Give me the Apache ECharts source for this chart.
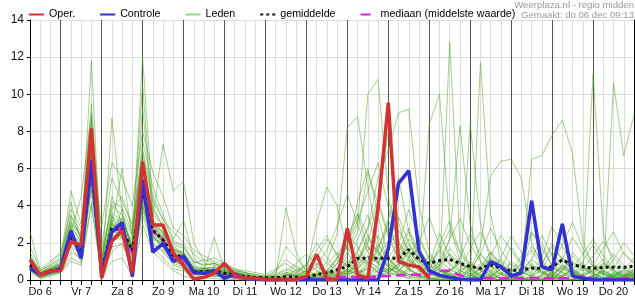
<!DOCTYPE html>
<html><head><meta charset="utf-8">
<script src="https://cdn.jsdelivr.net/npm/echarts@6/dist/echarts.min.js"></script>
<style>html,body{margin:0;padding:0;background:#fff}#c{width:635px;height:300px}</style>
</head><body><div id="c"></div>
<script>
// ---- data ----
const dayNames = ['Do 6','Vr 7','Za 8','Zo 9','Ma 10','Di 11','Wo 12','Do 13','Vr 14','Za 15','Zo 16','Ma 17','Di 18','Wo 19','Do 20','Vr 21'];
const startHour = 6;
const stepHours = 6;
const nSteps = 60;
const yMin = 0, yMax = 14, yStep = 2;

const oper = [1.1,0.25,0.5,0.5,2.06,1.88,8.17,0.1,2.1,2.66,
  0.37,6.37,2.96,2.96,1.45,0.77,0.04,0.14,0.36,0.9,
  0.27,0.09,0.09,0.03,0.03,0.03,0.03,0.18,1.38,0.04,
  0.04,2.78,0.27,0.07,3.85,9.55,1.0,0.8,0.7,0.09];

const controle = [0.63,0.27,0.45,0.63,2.66,1.17,6.46,0.3,2.6,3.09,
  0.18,5.39,1.5,1.97,1.0,1.29,0.41,0.36,0.5,0.09,
  0.32,0.09,0.04,0,0,0,0,0,0,0,
  0,0,0,0,0,1.67,5.2,5.89,1.55,0.5,
  0.25,0.14,0.04,0,0,0.99,0.72,0.22,0.39,4.27,
  0.72,0.54,3.02,0.22,0.09,0,0,0,0,0];

const gemiddelde = [0.8,0.3,0.5,0.6,2.3,1.6,6.1,0.4,2.8,2.7,
  1.6,4.8,2.7,2.15,1.35,1.25,0.45,0.45,0.5,0.36,
  0.32,0.18,0.14,0.12,0.12,0.18,0.15,0.12,0.3,0.39,
  0.55,0.72,1.17,1.18,1.17,1.17,1.17,1.64,1.1,0.9,
  1.05,1.11,0.9,0.72,0.63,0.81,0.63,0.5,0.54,0.63,
  0.63,0.72,1.08,0.81,0.72,0.63,0.68,0.68,0.68,0.75];

const mediaan = [0.7,0.25,0.45,0.55,2.3,1.5,5.9,0.4,2.6,2.8,
  1.4,4.7,2.6,2.2,1.2,1.1,0.35,0.35,0.4,0.2,
  0.15,0.05,0.02,0,0,0,0,0,0.05,0.1,
  0.15,0.18,0.15,0.12,0.2,0.22,0.25,0.28,0.28,0.3,
  0.5,0.5,0.25,0.1,0.1,0.1,0.1,0.1,0.1,0.1,
  0.1,0.1,0.1,0.1,0.2,0.1,0.1,0.1,0.1,0.1];

const leden = [
 [1.0,0.3,0.5,0.7,2.8,1.5,7.2,0.4,3.2,2.4,1.2,5.5,2.2,1.8,1.0,0.8,0.3,0.4,0.6,0.3,0.2,0.1,0.0,0.0,
  0.0,0.1,0.2,0.0,0.3,0.5,1.2,2.5,1.8,0.9,0.4,0.6,1.5,2.8,1.2,0.5,0.2,0.3,0.1,0.0,0.0,0.2,0.6,0.3,0.1,0.0,0.0,0.4,1.2,0.6,0.2,0.0,0.1,0.3,0.2,0.5],
 [0.6,0.2,0.4,0.5,2.0,1.8,5.5,0.8,2.5,3.1,1.9,4.2,3.0,2.5,1.6,1.4,0.6,0.3,0.4,0.5,0.3,0.1,0.1,0.0,
  0.1,0.0,0.0,0.2,0.1,0.0,0.3,0.6,2.2,3.5,1.6,0.8,0.5,1.0,0.7,0.3,0.6,1.4,0.9,0.3,0.1,0.0,0.0,0.2,0.5,1.1,0.7,0.3,0.2,0.6,0.9,0.4,0.1,0.0,0.0,0.2],
 [2.6,0.5,0.8,1.2,4.8,3.0,8.5,1.5,4.0,3.5,2.5,6.0,3.8,2.9,2.0,1.8,1.0,0.8,0.9,0.7,0.5,0.3,0.2,0.1,
  0.3,0.6,0.4,0.2,0.0,0.1,0.5,1.0,0.8,1.6,2.4,1.1,0.6,0.3,0.2,0.8,2.5,1.3,0.5,0.2,0.6,1.5,0.8,0.3,0.1,0.0,0.3,0.7,0.4,0.2,0.0,0.1,0.6,1.4,0.8,0.3],
 [0.5,0.1,0.3,0.4,1.2,0.9,4.2,0.2,1.5,2.0,0.8,3.5,1.8,1.2,0.6,0.5,0.1,0.2,0.3,0.1,0.0,0.0,0.0,0.0,
  0.0,0.0,0.1,0.0,0.0,0.2,0.4,0.3,0.5,0.2,0.8,3.2,5.5,2.6,1.0,0.4,0.2,0.0,0.0,0.3,0.9,0.4,0.1,0.0,0.0,0.2,0.5,0.2,0.0,0.0,0.3,0.8,0.5,0.2,0.0,0.0],
 [0.9,0.4,0.6,0.8,3.5,2.2,11.8,0.6,2.2,2.8,1.5,4.9,2.6,2.0,1.3,1.0,0.4,0.6,0.7,0.4,0.3,0.2,0.1,0.0,
  0.0,0.0,0.0,0.1,0.2,0.0,0.1,0.4,0.9,2.0,4.2,8.0,3.1,1.2,0.5,0.2,0.0,0.0,0.4,1.0,0.5,0.2,0.6,1.8,0.9,0.3,0.0,0.0,0.2,0.4,0.1,0.0,0.0,0.3,0.5,0.2],
 [1.2,0.3,0.4,0.6,2.4,1.7,6.4,0.3,8.7,3.6,1.4,5.2,2.4,1.7,1.1,1.3,0.7,0.4,0.3,0.6,0.4,0.2,0.1,0.1,
  0.0,0.2,0.5,0.3,0.1,0.0,0.0,0.2,0.6,1.3,0.9,0.5,0.8,1.9,1.1,0.6,0.3,12.8,2.0,0.6,0.2,0.0,0.0,0.1,0.4,0.2,0.0,0.0,0.5,1.3,0.7,0.2,0.0,0.0,0.1,0.3],
 [0.7,0.2,0.5,0.5,2.1,1.3,5.9,0.5,2.9,6.0,2.2,12.0,4.0,2.8,1.5,1.1,0.5,0.3,0.4,0.3,0.2,0.1,0.0,0.0,
  0.1,0.3,0.2,0.0,0.3,0.8,1.5,0.9,0.4,0.6,1.8,2.9,1.5,0.6,0.2,0.1,0.0,0.2,0.5,0.3,0.1,0.0,0.3,0.9,0.5,0.2,0.1,0.0,0.0,0.3,0.7,0.4,0.1,0.0,0.2,0.6],
 [0.8,0.3,0.6,0.9,3.0,2.5,7.8,1.0,3.5,2.2,1.8,9.3,3.4,7.3,4.8,5.3,2.0,1.0,1.2,0.9,0.6,0.4,0.2,0.1,
  0.0,0.0,0.1,0.4,0.9,0.5,0.2,0.6,1.2,0.8,0.4,0.3,1.0,2.2,1.6,0.9,0.5,0.3,0.1,0.0,0.2,0.5,0.3,0.1,0.6,2.5,2.0,0.7,0.3,0.1,0.0,0.2,0.4,0.1,0.0,0.3],
 [1.5,0.4,0.7,1.0,2.6,4.5,9.0,0.9,4.5,3.0,2.0,7.5,5.0,3.5,2.2,3.2,1.2,0.6,0.5,0.3,0.2,0.1,0.1,0.0,
  0.0,0.1,0.0,0.0,0.1,0.3,0.9,2.0,3.5,1.8,0.9,0.4,0.3,0.5,0.8,0.4,0.2,0.1,0.0,0.1,0.4,1.2,0.7,0.3,0.1,0.0,0.0,0.2,0.8,0.5,0.2,0.1,0.0,0.0,0.1,0.4],
 [0.6,0.2,0.4,0.5,1.8,1.0,5.2,0.4,2.0,2.5,1.0,4.0,2.0,1.5,0.9,0.7,0.3,0.2,0.2,0.2,0.1,0.0,0.0,0.0,
  0.0,0.0,0.0,0.0,0.0,0.1,0.3,0.5,0.3,0.2,0.5,1.2,2.0,1.4,0.6,0.3,0.8,2.2,8.3,3.0,1.0,0.4,0.1,0.0,0.0,0.2,0.6,1.5,0.8,0.3,0.1,0.0,0.0,0.2,0.6,0.3],
 [0.9,0.4,0.5,0.7,2.2,1.5,6.8,0.7,3.0,2.6,1.6,4.5,2.8,2.4,1.8,1.5,0.6,0.5,2.3,0.5,0.3,0.2,0.1,0.1,
  0.2,0.4,0.2,0.1,0.0,0.0,0.2,0.4,0.7,1.1,0.6,0.4,0.7,1.5,0.9,8.4,10.0,3.0,1.0,0.4,0.2,0.1,0.0,0.0,0.3,0.8,0.4,0.1,0.0,0.0,0.2,0.5,0.3,0.1,0.0,0.0],
 [1.1,0.2,0.3,0.6,2.9,2.0,8.0,0.5,2.6,3.3,1.7,6.5,3.2,2.0,1.2,1.0,0.4,0.7,0.5,0.4,0.3,0.2,0.1,0.0,
  0.0,0.0,0.2,0.5,3.1,5.0,4.0,1.5,0.6,0.3,0.2,0.4,0.9,0.6,0.3,0.1,0.0,0.0,0.1,0.5,1.4,0.8,0.3,0.1,0.0,0.0,0.1,0.3,0.6,0.4,0.1,0.0,0.1,0.4,0.2,0.1],
 [0.7,0.3,0.5,0.6,2.5,1.9,6.2,0.6,3.3,2.9,1.5,5.0,2.5,2.3,1.4,1.2,0.5,0.5,0.6,0.4,0.4,0.3,0.2,0.1,
  0.1,0.0,0.0,0.0,0.1,0.3,0.6,1.5,3.0,10.0,10.8,4.5,1.8,1.2,0.6,0.3,0.2,0.5,1.0,0.6,0.3,0.1,0.0,0.2,0.5,0.9,0.4,0.2,0.0,0.0,0.3,0.6,0.4,0.2,0.1,0.0],
 [0.8,0.2,0.4,0.6,2.3,1.4,6.0,0.4,2.7,2.7,1.4,4.6,2.6,2.1,1.3,1.1,0.4,0.4,0.4,0.3,0.2,0.1,0.1,0.0,
  0.0,0.0,0.1,0.2,0.4,1.0,2.5,8.2,8.8,5.0,2.0,0.9,0.5,0.3,0.2,0.1,0.0,0.0,0.2,8.4,3.0,1.0,0.4,0.1,0.0,0.0,0.2,0.7,1.2,0.5,0.2,0.0,0.0,0.1,0.3,0.2],
 [1.0,0.4,0.6,0.8,2.0,1.6,5.6,0.7,2.4,2.3,1.8,4.4,2.9,2.6,1.7,1.4,0.6,0.6,0.5,0.5,0.3,0.2,0.1,0.1,
  0.2,0.1,0.0,0.0,0.0,0.2,0.5,0.9,1.6,2.8,5.5,7.0,9.0,9.2,4.0,1.5,0.6,0.3,0.1,0.0,0.0,0.4,1.1,0.6,0.2,0.1,0.0,0.0,0.2,0.6,0.3,11.1,2.5,0.8,0.3,0.1],
 [0.5,0.2,0.3,0.4,1.5,1.2,4.8,0.3,1.8,1.9,0.9,3.8,1.9,1.6,0.8,0.6,0.2,0.2,0.3,0.2,0.1,0.0,0.0,0.0,
  0.0,0.0,0.0,0.1,0.3,0.2,0.1,0.4,1.0,2.2,1.5,0.7,0.3,0.6,1.4,0.8,0.3,0.1,0.0,0.0,11.7,3.5,1.0,0.3,0.1,0.0,0.0,0.3,0.8,0.4,0.1,0.0,0.0,0.2,0.4,0.2],
 [1.3,0.5,0.9,1.4,3.8,2.8,9.5,1.8,5.5,4.2,3.0,7.0,4.5,3.2,2.6,2.0,1.4,0.9,0.8,0.6,0.4,0.3,0.2,0.2,
  0.4,1.8,1.2,0.5,0.3,0.1,0.0,0.2,0.6,1.0,0.7,0.4,0.2,0.1,0.5,1.3,0.8,0.4,0.2,0.6,1.8,5.6,6.4,6.5,5.5,2.0,0.8,0.3,0.1,0.0,0.0,0.2,0.5,0.3,0.1,0.0],
 [0.6,0.1,0.3,0.5,2.7,1.1,6.6,0.2,2.3,3.8,1.3,5.8,2.3,1.9,1.0,0.9,0.3,0.3,0.2,0.2,0.2,0.1,0.0,0.0,
  0.0,0.3,0.8,0.4,0.1,0.0,0.2,0.5,0.3,0.7,1.6,3.3,1.4,0.6,0.2,0.0,0.0,0.1,0.4,0.9,0.5,0.2,0.1,0.0,0.4,6.5,6.7,7.8,8.6,6.8,2.1,0.7,0.3,0.1,0.0,0.2],
 [0.9,0.3,0.6,0.7,2.3,1.8,6.1,0.8,3.1,2.5,1.9,4.9,2.7,2.2,1.5,1.3,0.5,0.5,0.6,0.4,0.3,0.2,0.2,0.1,
  0.1,0.2,0.3,0.2,0.0,0.0,0.1,0.3,0.8,1.3,0.9,0.5,1.2,2.6,1.7,0.8,0.4,0.2,0.1,0.0,0.0,0.2,0.6,0.3,0.1,0.0,0.0,0.1,0.5,1.0,0.6,0.3,0.1,10.6,6.7,8.9],
 [0.7,0.2,0.4,0.5,2.1,1.6,5.3,0.5,2.8,2.6,1.5,4.3,2.4,1.8,1.2,1.0,0.4,0.4,0.5,0.3,0.2,0.1,0.0,0.0,
  0.0,0.0,0.0,0.0,0.1,0.3,0.2,0.6,1.4,0.9,0.5,0.4,0.8,1.6,1.0,0.5,1.9,3.2,1.5,0.6,0.3,0.1,0.0,0.0,0.2,0.8,0.5,0.2,0.1,0.0,0.0,0.3,0.9,0.5,0.2,0.1],
 [1.8,0.6,1.0,1.5,3.2,2.4,7.0,1.2,3.8,4.5,2.8,6.2,3.6,2.7,1.9,1.7,0.9,1.1,0.9,0.7,0.5,0.4,0.3,0.2,
  0.2,3.9,1.5,0.4,0.2,0.5,1.2,0.8,0.4,0.2,0.3,0.6,0.4,0.2,0.1,0.3,0.8,1.4,0.7,0.3,0.1,0.0,0.3,1.0,0.6,0.3,0.8,2.0,1.1,0.5,0.2,0.0,0.0,0.2,0.5,1.2],
 [0.4,0.1,0.2,0.4,1.0,0.8,4.0,0.2,1.0,1.2,0.2,3.0,1.5,1.0,0.5,0.2,0.1,0.1,0.1,0.0,0.0,0.0,0.0,0.0,
  0.0,0.0,0.0,0.0,0.0,0.0,0.0,0.1,0.3,0.6,0.4,0.2,0.5,1.1,0.7,0.3,0.1,0.0,0.0,0.2,0.6,0.3,0.1,0.0,0.0,0.0,0.2,0.4,0.2,0.0,0.0,0.1,0.3,0.2,0.0,0.0],
 [1.0,0.4,0.7,0.9,4.2,2.0,7.5,2.9,6.3,5.5,4.0,8.0,5.8,4.5,2.8,2.4,1.6,1.3,1.0,0.8,0.6,0.5,0.4,0.3,
  0.6,0.9,0.5,0.8,1.6,2.4,1.3,0.6,0.3,0.9,1.9,1.2,0.6,0.3,0.2,0.5,1.0,0.6,0.3,0.1,0.4,1.2,0.7,0.3,0.1,0.0,0.3,0.9,0.5,1.5,0.8,0.3,0.1,0.0,0.2,0.6],
 [0.8,0.3,0.5,0.6,2.4,1.5,6.3,0.6,2.9,2.8,1.6,5.1,2.7,2.3,1.4,1.2,0.5,0.5,0.5,0.4,0.3,0.2,0.1,0.1,
  0.1,0.0,0.1,0.3,0.7,0.4,0.2,0.5,1.1,1.8,1.0,0.6,0.4,1.2,2.3,1.2,0.5,0.2,0.1,0.0,0.0,0.2,0.4,0.2,0.0,0.0,0.0,0.3,0.7,0.4,0.2,0.5,0.9,0.4,0.2,0.3],
 [1.1,0.2,0.6,0.8,2.9,2.1,8.8,0.4,3.6,3.2,2.4,10.5,3.3,2.5,1.6,1.5,0.8,0.6,0.7,0.5,0.4,0.2,0.1,0.1,
  0.2,0.4,0.3,0.1,0.0,0.3,0.9,1.8,4.2,6.0,3.5,1.2,0.5,0.2,0.1,0.0,0.2,0.6,0.3,0.1,0.0,0.3,0.7,0.4,0.9,1.6,0.8,0.3,0.1,0.0,0.0,0.2,0.5,0.2,0.1,0.0],
 [0.6,0.3,0.4,0.7,1.9,1.3,5.8,0.6,2.1,2.3,1.1,4.0,2.2,2.0,1.3,0.9,0.4,0.3,0.4,0.3,0.2,0.1,0.1,0.0,
  0.0,0.1,0.0,0.0,0.2,0.5,0.3,0.1,0.4,0.8,1.2,0.7,0.3,0.1,0.0,0.0,0.1,0.5,0.9,0.5,0.2,0.1,0.0,0.0,0.3,0.7,0.4,0.1,0.0,0.0,0.2,0.6,1.1,0.5,0.2,0.4],
 [0.9,0.4,0.6,0.9,3.1,2.3,7.0,0.9,3.4,3.1,2.1,5.6,3.1,2.6,1.7,1.4,0.7,0.6,0.7,0.5,0.4,0.3,0.2,0.2,
  0.3,0.5,0.9,1.4,0.8,0.4,1.1,2.3,3.6,2.4,1.3,2.1,3.4,2.0,1.1,0.6,1.6,2.7,1.5,0.9,0.5,1.3,2.4,1.6,0.8,0.4,1.2,2.9,1.8,0.9,0.5,0.8,1.7,2.6,1.4,0.9],
 [0.7,0.2,0.4,0.6,2.0,1.7,5.0,0.3,2.2,2.9,1.3,4.1,2.3,2.0,1.0,0.8,0.3,0.4,0.5,0.3,0.2,0.1,0.1,0.0,
  0.0,0.2,0.6,0.4,1.2,2.2,1.4,0.7,1.5,2.8,4.3,2.5,1.2,0.6,2.0,3.4,1.8,0.9,0.5,1.7,2.6,1.4,0.7,0.3,0.9,1.8,1.0,0.5,0.2,0.6,1.4,2.2,1.3,0.6,0.3,0.8],
 [1.2,0.5,0.8,1.1,3.4,2.6,8.2,1.1,4.2,3.9,2.6,6.8,4.2,3.3,2.1,1.9,1.0,0.8,0.9,0.6,0.5,0.4,0.3,0.2,
  0.5,1.1,0.7,0.3,0.8,1.6,2.9,4.6,3.0,1.5,0.9,1.8,2.7,1.6,0.8,0.4,1.0,2.2,3.3,1.9,1.0,0.5,1.2,2.4,1.5,0.7,0.3,0.8,1.9,3.1,1.7,0.9,0.4,1.1,2.0,1.3],
 [0.6,0.3,0.5,0.7,2.6,1.4,6.9,0.5,3.0,2.4,1.7,5.3,2.5,2.1,1.3,1.0,0.5,0.5,0.4,0.4,0.3,0.2,0.1,0.1,
  0.1,0.3,0.2,0.5,1.4,0.9,0.5,1.3,2.6,5.8,4.1,2.3,1.1,0.5,0.3,0.9,1.6,0.8,0.4,0.2,0.7,1.5,0.9,0.4,1.3,2.6,1.7,0.8,0.4,0.2,0.6,1.3,2.1,1.2,0.6,0.3],
 [1.0,0.3,0.6,0.8,2.5,2.0,6.5,0.7,2.7,3.4,1.8,5.0,2.9,2.4,1.6,1.3,0.6,0.5,0.6,0.4,0.3,0.2,0.2,0.1,
  0.2,0.1,0.4,0.9,0.5,0.2,0.6,1.9,3.2,4.8,6.3,3.9,2.0,1.0,0.5,0.3,0.8,1.7,1.0,0.5,1.4,2.8,1.6,0.8,0.4,0.2,0.9,1.8,1.1,2.3,1.4,0.7,0.3,0.6,1.5,0.9],
 [0.8,0.2,0.5,0.6,2.2,1.5,5.7,0.6,2.6,2.5,1.5,4.6,2.4,2.1,1.2,1.1,0.4,0.4,0.4,0.3,0.2,0.1,0.0,0.0,
  0.0,0.0,0.3,0.8,2.0,1.2,0.6,0.3,1.0,2.4,1.5,0.7,1.9,3.8,2.2,1.1,0.5,0.3,1.2,2.5,1.4,0.7,0.3,0.1,0.5,1.1,2.4,1.3,0.6,0.3,1.0,1.9,1.0,0.5,0.2,0.5]
];

const headerLine1 = 'Weerplaza.nl - regio midden';
const headerLine2 = 'Gemaakt: do 06 dec 09:13';
const legendNames = ['Oper.','Controle','Leden','gemiddelde','mediaan (middelste waarde)'];

// ---- categories ----
const timeLabels = [];
for (let i = 0; i < nSteps; i++) {
  const h = startHour + i * stepHours;
  timeLabels.push(dayNames[Math.floor(h / 24)] + ' ' + String(h % 24).padStart(2, '0') + ':00');
}
const isNoon = (idx) => !!timeLabels[idx] && timeLabels[idx].endsWith('12:00');
const isMidnight = (idx) => !!timeLabels[idx] && timeLabels[idx].endsWith('00:00');

const FONT = 'Liberation Sans, Arial, sans-serif';
const chart = echarts.init(document.getElementById('c'), null, {renderer: 'canvas'});

const series = [];
leden.forEach(d => series.push({
  name: 'Leden', type: 'line', data: d, symbol: 'none', silent: true, z: 2,
  color: 'rgb(75,160,35)',
  lineStyle: {width: 1, color: 'rgb(75,160,35)', opacity: 0.5}
}));
series.push({name: 'mediaan (middelste waarde)', type: 'line', data: mediaan, symbol: 'none', z: 3,
  color: '#e020e0', lineStyle: {width: 2.5, color: '#e020e0', type: [10, 5]}});
series.push({name: 'gemiddelde', type: 'line', data: gemiddelde, symbol: 'none', z: 4,
  color: '#111', lineStyle: {width: 3, color: '#111', type: [3, 3]}});
series.push({name: 'Controle', type: 'line', data: controle, symbol: 'none', z: 5,
  color: '#3232d2', lineStyle: {width: 3.5, color: '#3232d2'}});
series.push({name: 'Oper.', type: 'line', data: oper, symbol: 'none', z: 6,
  color: '#d23232', lineStyle: {width: 3.5, color: '#d23232'}});

chart.setOption({
  animation: false,
  backgroundColor: '#fff',
  textStyle: {fontFamily: FONT},
  grid: {left: 30, right: 1, top: 20, bottom: 20, containLabel: false},
  legend: {
    data: legendNames, left: 28, top: 9, padding: 0, itemGap: 24,
    itemWidth: 15, itemHeight: 11,
    itemStyle: {opacity: 0},
    textStyle: {fontSize: 10.7, color: '#000', fontFamily: FONT}
  },
  graphic: [
    {type: 'text', right: 1, top: 0, style: {text: headerLine1, fill: '#999', font: '9.6px ' + FONT}},
    {type: 'text', right: 1, top: 10, style: {text: headerLine2, fill: '#999', font: '9.6px ' + FONT}}
  ],
  xAxis: [
    {
      type: 'category', data: timeLabels, boundaryGap: false, position: 'bottom',
      axisLine: {show: true, lineStyle: {color: '#000', width: 1}},
      axisTick: {show: true, interval: 0, inside: false, length: 4, lineStyle: {color: '#000'}},
      axisLabel: {interval: (idx) => isNoon(idx), margin: 6, fontSize: 11, color: '#111', fontFamily: FONT,
        formatter: (v) => v.slice(0, v.lastIndexOf(' '))},
      splitLine: {show: true, interval: 0, lineStyle: {color: '#dcdcdc', width: 1}}
    },
    {
      type: 'category', data: timeLabels, boundaryGap: false, position: 'top',
      axisLine: {show: true, lineStyle: {color: '#000', width: 1}},
      axisTick: {show: true, interval: 0, inside: true, length: 5, lineStyle: {color: '#000'}},
      axisLabel: {show: false},
      splitLine: {show: true, interval: (idx) => isMidnight(idx), lineStyle: {color: '#555', width: 1}}
    }
  ],
  yAxis: [
    {
      type: 'value', min: yMin, max: yMax, interval: yStep, position: 'left',
      axisLine: {show: true, lineStyle: {color: '#000'}},
      axisTick: {show: true, length: 3, lineStyle: {color: '#000'}},
      axisLabel: {fontSize: 12, color: '#111', margin: 6, fontFamily: FONT},
      splitLine: {show: true, lineStyle: {color: '#dcdcdc', width: 1}}
    },
    {
      type: 'value', min: yMin, max: yMax, interval: yStep, position: 'right',
      axisLine: {show: true, lineStyle: {color: '#000'}},
      axisTick: {show: false}, axisLabel: {show: false}, splitLine: {show: false}
    }
  ],
  series: series
});
</script></body></html>
